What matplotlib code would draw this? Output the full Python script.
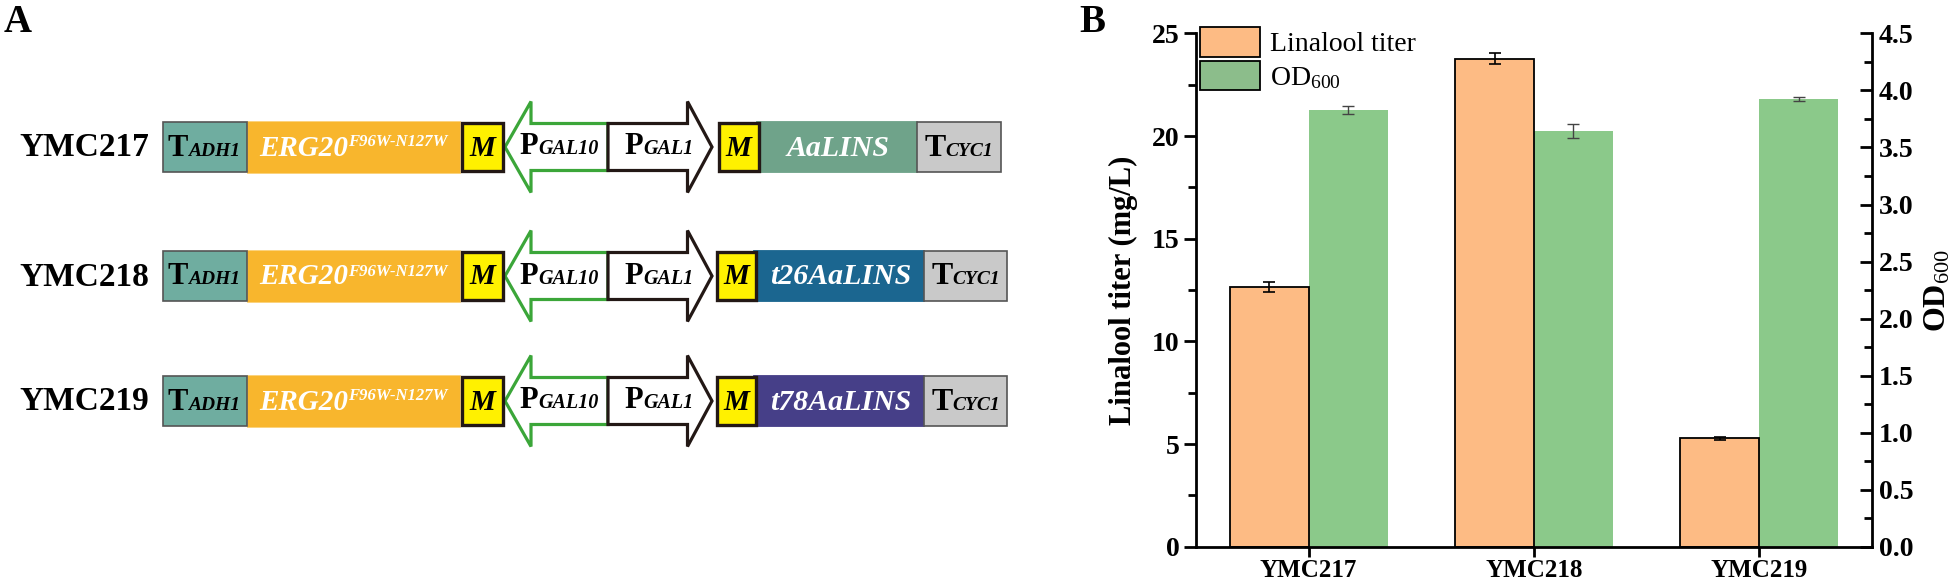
import matplotlib
matplotlib.use('Agg')
import matplotlib.pyplot as plt
from matplotlib.patches import Rectangle, Polygon, Patch
from matplotlib.offsetbox import TextArea, HPacker, AnnotationBbox
from matplotlib.ticker import MultipleLocator
import numpy as np

plt.rcParams['font.family'] = ['Liberation Serif', 'DejaVu Serif']
plt.rcParams['mathtext.fontset'] = 'custom'
plt.rcParams['mathtext.rm'] = 'Liberation Serif'
plt.rcParams['mathtext.it'] = 'Liberation Serif:italic'
plt.rcParams['mathtext.bf'] = 'Liberation Serif:bold'

# ---------------- data ----------------
strains = ['YMC217', 'YMC218', 'YMC219']
linalool = [12.65, 23.77, 5.28]
linalool_err = [0.24, 0.26, 0.06]
od600 = [3.83, 3.645, 3.925]
od600_err = [0.033, 0.062, 0.015]
gene_names = ['AaLINS', 't26AaLINS', 't78AaLINS']
left_yticks = [0, 5, 10, 15, 20, 25]
right_yticks = [0.0, 0.5, 1.0, 1.5, 2.0, 2.5, 3.0, 3.5, 4.0, 4.5]

# ---------------- styles ----------------
C_TADH = '#6fada0'
C_ERG = '#f8b62d'
C_M = '#fff100'
C_DARK = '#231815'
C_GREEN_ARROW = '#3ba639'
C_TCYC = '#c9c9c9'
gene_colors = ['#6fa38a', '#1b6690', '#463f88']
C_ORANGE = '#fdbb84'
C_GREEN = '#8bc98a'
SERIF = 'Liberation Serif'

fig = plt.figure(figsize=(19.6, 5.84), dpi=100)

# ================= Panel A (diagram) =================
axA = fig.add_axes([0, 0, 1100 / 1960, 1])
axA.set_xlim(0, 1100)
axA.set_ylim(584, 0)
axA.axis('off')


def rich(ax, x, y, parts, align='baseline'):
    kids = [TextArea(s, textprops=p) for s, p in parts]
    pack = HPacker(children=kids, align=align, pad=0, sep=0)
    ab = AnnotationBbox(pack, (x, y), xycoords='data', frameon=False,
                        box_alignment=(0.5, 0.5), pad=0, annotation_clip=False)
    ab.set_zorder(8)
    ax.add_artist(ab)


def tp(size, weight='bold', style='normal', color='black'):
    return dict(fontsize=size, fontweight=weight, fontstyle=style,
                color=color, family=SERIF)


row_cy = [147, 276, 401]
right_x = [(717, 760, 917, 1001), (715, 757, 924, 1007), (715, 757, 924, 1007)]

for i, cy in enumerate(row_cy):
    # strain label
    axA.text(149, cy + 1, strains[i], ha='right', va='center', fontsize=24,
             fontweight='bold', family=SERIF)
    # ERG20 box
    axA.add_patch(Rectangle((247, cy - 26), 213, 52, facecolor=C_ERG,
                            edgecolor='#fbd27a', lw=0.6, zorder=2))
    # T_ADH1
    axA.add_patch(Rectangle((163, cy - 25), 84, 50, facecolor=C_TADH,
                            edgecolor='#555555', lw=1.2, zorder=3))
    rich(axA, 204, cy + 1, [('T', tp(22)), ('ADH1', tp(14, style='italic'))])
    rich(axA, 353, cy + 1, [('ERG20', tp(21, style='italic', color='white')),
                            ('F96W-N127W', tp(12, style='italic', color='white'))],
         align='top')
    # M box 1
    axA.add_patch(Rectangle((461.5, cy - 24), 41, 48, facecolor=C_M,
                            edgecolor=C_DARK, lw=2.4, zorder=4))
    axA.text(482, cy + 1, 'M', ha='center', va='center', fontsize=21,
             fontweight='bold', fontstyle='italic', family=SERIF, zorder=5)
    # green arrow (P_GAL10, leftwards)
    g_pts = [(505, cy), (531, cy - 45.5), (531, cy - 23.5), (608, cy - 23.5),
             (608, cy + 23.5), (531, cy + 23.5), (531, cy + 45.5)]
    axA.add_patch(Polygon(g_pts, closed=True, facecolor='white',
                          edgecolor=C_GREEN_ARROW, lw=2.3, joinstyle='miter', zorder=3))
    # dark arrow (P_GAL1, rightwards)
    b_pts = [(608, cy - 23.5), (687.5, cy - 23.5), (687.5, cy - 45.5), (712, cy),
             (687.5, cy + 45.5), (687.5, cy + 23.5), (608, cy + 23.5)]
    axA.add_patch(Polygon(b_pts, closed=True, facecolor='white',
                          edgecolor=C_DARK, lw=2.3, joinstyle='miter', zorder=4))
    rich(axA, 559, cy, [('P', tp(22)), ('GAL10', tp(14.5, style='italic'))])
    rich(axA, 659, cy, [('P', tp(22)), ('GAL1', tp(14.5, style='italic'))])
    # right part
    m0, g0, t0, t1 = right_x[i]
    axA.add_patch(Rectangle((g0 - 4, cy - 26), t0 - g0 + 4, 51, facecolor=gene_colors[i],
                            edgecolor=gene_colors[i], lw=0.6, zorder=2))
    axA.add_patch(Rectangle((m0 + 1.5, cy - 24), g0 - m0 - 3, 48, facecolor=C_M,
                            edgecolor=C_DARK, lw=2.4, zorder=4))
    axA.text((m0 + g0) / 2, cy + 1, 'M', ha='center', va='center', fontsize=21,
             fontweight='bold', fontstyle='italic', family=SERIF, zorder=5)
    axA.text((g0 + t0) / 2, cy + 1, gene_names[i], ha='center', va='center',
             fontsize=21.5, fontweight='bold', fontstyle='italic', color='white',
             family=SERIF, zorder=5)
    axA.add_patch(Rectangle((t0, cy - 25), t1 - t0, 50, facecolor=C_TCYC,
                            edgecolor='#555555', lw=1.2, zorder=3))
    rich(axA, (t0 + t1) / 2, cy + 1, [('T', tp(23)), ('CYC1', tp(14, style='italic'))])

fig.text(4 / 1960, 1 - 23 / 584, 'A', fontsize=28, fontweight='bold',
         va='center', ha='left', family=SERIF)
fig.text(1079 / 1960, 1 - 22 / 584, 'B', fontsize=28, fontweight='bold',
         va='center', ha='left', family=SERIF)

# ================= Panel B (bar chart) =================
ax = fig.add_axes([1196 / 1960, (584 - 546.7) / 584, (1872 - 1196) / 1960,
                   (546.7 - 33.4) / 584])
ax2 = ax.twinx()
x = np.arange(len(strains))
w = 0.35

ax2.bar(x + w / 2, od600, w, color=C_GREEN, edgecolor=C_GREEN, linewidth=0)
ax2.errorbar(x + w / 2, od600, yerr=od600_err, fmt='none', ecolor='#444444',
             elinewidth=1.0, capsize=4, capthick=1.0)
ax.bar(x - w / 2, linalool, w, color=C_ORANGE, edgecolor='black', linewidth=1.3, zorder=2)
ax.errorbar(x - w / 2, linalool, yerr=linalool_err, fmt='none', ecolor='black',
            elinewidth=1.2, capsize=4, capthick=1.2, zorder=3)

ax.set_zorder(ax2.get_zorder() + 1)
ax.patch.set_visible(False)

ax.set_xlim(-0.5, 2.5)
ax.set_ylim(0, 25)
ax2.set_ylim(0, 4.5)

ax.set_xticks(x)
ax.set_xticklabels(strains, fontsize=18, fontweight='bold')
ax.set_yticks(left_yticks)
ax.set_yticklabels([str(v) for v in left_yticks], fontsize=20, fontweight='bold')
ax.yaxis.set_minor_locator(MultipleLocator(2.5))
ax2.set_yticks(right_yticks)
ax2.set_yticklabels(['%.1f' % v for v in right_yticks], fontsize=20, fontweight='bold')
ax2.yaxis.set_minor_locator(MultipleLocator(0.25))

for s in ['top', 'right']:
    ax.spines[s].set_visible(False)
for s in ['top', 'left', 'bottom']:
    ax2.spines[s].set_visible(False)
for s in ['left', 'bottom']:
    ax.spines[s].set_linewidth(2.0)
ax2.spines['right'].set_linewidth(2.0)

ax.tick_params(axis='y', which='major', direction='out', length=9, width=2, pad=3)
ax.tick_params(axis='y', which='minor', direction='out', length=5.5, width=2)
ax.tick_params(axis='x', which='major', direction='out', length=7, width=2, pad=1.5)
ax.tick_params(axis='x', which='minor', bottom=False)
ax2.tick_params(axis='y', which='major', direction='in', length=9, width=2, pad=5)
ax2.tick_params(axis='y', which='minor', direction='in', length=5.5, width=2)

ax.set_ylabel('Linalool titer (mg/L)', fontsize=22, fontweight='bold', labelpad=10)
ax2.set_ylabel(r'OD$_{600}$', fontsize=23, fontweight='bold', labelpad=7)

handles = [Patch(facecolor=C_ORANGE, edgecolor='black', lw=1.3, label='Linalool titer'),
           Patch(facecolor='#8cbd8b', edgecolor='black', lw=1.3, label=r'OD$_{600}$')]
ax.legend(handles=handles, loc='upper left', bbox_to_anchor=(0.006, 1.012),
          frameon=False, fontsize=20, handlelength=2.15, handleheight=1.25,
          handletextpad=0.35, labelspacing=0.12, borderpad=0, borderaxespad=0)

fig.savefig('out.png', dpi=100)
